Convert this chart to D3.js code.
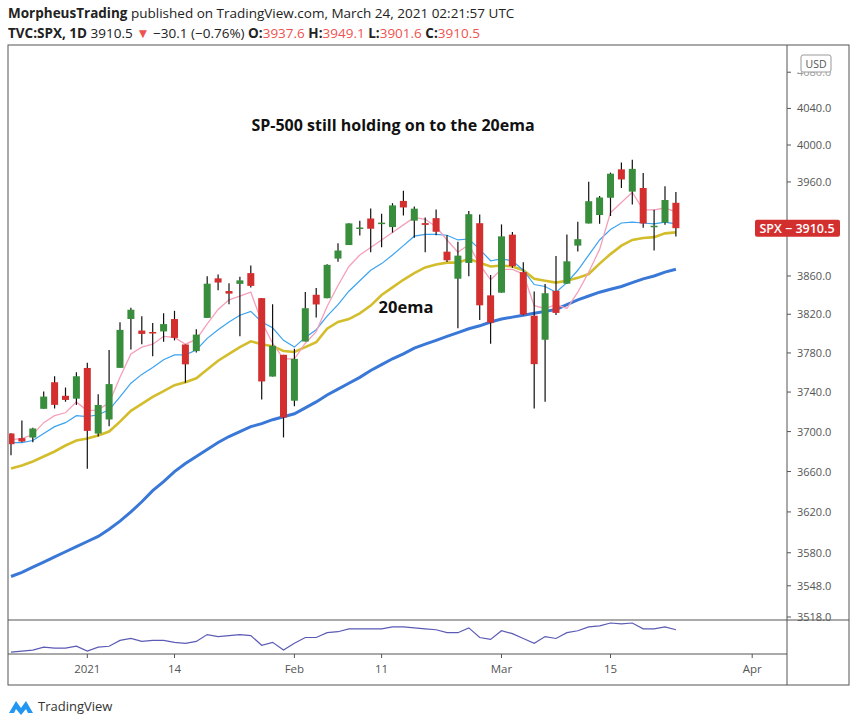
<!DOCTYPE html>
<html><head><meta charset="utf-8">
<script src="https://cdn.jsdelivr.net/npm/d3@7"></script>
<style>body{margin:0;background:#fff}svg{display:block;font-family:"Open Sans","Liberation Sans",sans-serif}</style>
</head><body><svg id="c" width="853" height="725"></svg>
<script>
const dates=["2020-12-22","2020-12-23","2020-12-24","2020-12-28","2020-12-29","2020-12-30","2020-12-31","2021-01-04","2021-01-05","2021-01-06","2021-01-07","2021-01-08","2021-01-11","2021-01-12","2021-01-13","2021-01-14","2021-01-15","2021-01-19","2021-01-20","2021-01-21","2021-01-22","2021-01-25","2021-01-26","2021-01-27","2021-01-28","2021-01-29","2021-02-01","2021-02-02","2021-02-03","2021-02-04","2021-02-05","2021-02-08","2021-02-09","2021-02-10","2021-02-11","2021-02-12","2021-02-16","2021-02-17","2021-02-18","2021-02-19","2021-02-22","2021-02-23","2021-02-24","2021-02-25","2021-02-26","2021-03-01","2021-03-02","2021-03-03","2021-03-04","2021-03-05","2021-03-08","2021-03-09","2021-03-10","2021-03-11","2021-03-12","2021-03-15","2021-03-16","2021-03-17","2021-03-18","2021-03-19","2021-03-22","2021-03-23"];
const open=[3698.1,3693.4,3694.0,3723.0,3750.0,3736.2,3733.3,3764.6,3698.0,3712.2,3764.7,3815.1,3803.1,3801.6,3802.2,3815.0,3788.7,3781.9,3816.2,3857.5,3844.2,3851.7,3863.0,3836.8,3755.8,3778.1,3731.2,3791.8,3840.3,3836.7,3878.3,3892.6,3910.5,3920.8,3916.4,3911.7,3939.6,3918.5,3915.9,3921.2,3885.6,3857.1,3873.7,3915.8,3839.7,3842.5,3903.6,3864.0,3818.5,3793.6,3844.4,3851.9,3892.0,3915.5,3924.5,3943.0,3973.6,3949.6,3953.5,3913.1,3916.5,3937.6];
const high=[3698.3,3711.2,3703.8,3740.5,3756.1,3744.6,3760.2,3770.0,3737.8,3783.0,3811.6,3826.7,3817.9,3810.8,3821.0,3823.6,3788.7,3804.5,3859.8,3861.5,3852.3,3859.2,3870.9,3836.8,3830.5,3778.1,3784.3,3843.1,3847.5,3872.4,3894.6,3915.8,3918.4,3931.5,3926.0,3937.2,3950.4,3933.6,3922.0,3930.4,3902.9,3896.0,3928.7,3925.0,3861.1,3914.5,3906.4,3874.5,3843.7,3851.7,3881.1,3903.8,3917.4,3960.3,3945.0,3970.1,3981.0,3983.9,3969.6,3930.1,3955.3,3949.1];
const low=[3676.2,3689.3,3689.3,3723.0,3723.3,3730.2,3726.9,3662.7,3695.1,3705.3,3764.7,3783.6,3789.0,3776.5,3791.5,3792.9,3749.6,3780.4,3816.2,3845.1,3830.4,3797.2,3847.8,3732.5,3755.8,3694.1,3725.6,3791.8,3816.7,3836.7,3874.9,3892.6,3902.6,3884.9,3890.4,3905.8,3923.9,3900.4,3885.0,3903.1,3874.7,3805.6,3859.6,3814.0,3789.5,3842.5,3868.6,3818.9,3723.3,3730.2,3819.3,3851.9,3885.7,3915.5,3915.2,3923.5,3953.4,3935.7,3910.9,3886.8,3914.2,3901.6];
const close=[3687.3,3690.0,3703.1,3735.4,3727.0,3732.0,3756.1,3700.7,3726.9,3748.1,3803.8,3824.7,3799.6,3801.2,3809.8,3795.5,3768.3,3798.9,3851.9,3853.1,3841.5,3855.4,3849.6,3750.8,3787.4,3714.2,3773.9,3826.3,3830.2,3871.7,3886.8,3915.6,3911.2,3909.9,3916.4,3934.8,3932.6,3931.3,3914.0,3906.7,3876.5,3881.4,3925.4,3829.3,3811.2,3901.8,3870.3,3819.7,3768.5,3841.9,3821.4,3875.4,3898.8,3939.3,3943.3,3968.9,3962.7,3974.1,3915.5,3913.1,3940.6,3910.5];
const emaPink=[3692,3693,3697,3709,3716,3719,3730,3721,3722,3729,3755,3779,3786,3789,3797,3796,3789,3794,3810,3825,3835,3839,3843,3812,3790,3774,3774,3790,3802,3828,3850,3870,3882,3890,3898,3906,3914,3922,3920,3912,3898,3885,3893,3872,3856,3867,3867,3862,3829,3826,3830,3826,3843,3864,3888,3927,3938,3949,3930,3930,3932,3928];
const ema10=[3689,3689,3691,3698,3705,3709,3716,3715,3717,3722,3735,3749,3758,3765,3773,3778,3778,3783,3795,3804,3812,3819,3823,3812,3806,3793,3786,3796,3804,3818,3830,3844,3855,3866,3873,3882,3892,3902,3904,3904,3903,3898,3899,3888,3876,3878,3876,3866,3851,3849,3843,3853,3866,3882,3898,3909,3916,3917,3916,3915,3917,3915];
const ema20=[3663,3666,3670,3675,3680,3686,3691,3693,3696,3700,3710,3721,3728,3735,3741,3747,3750,3754,3763,3772,3779,3786,3792,3789,3787,3782,3781,3786,3791,3805,3812,3815,3821,3829,3840,3848,3856,3863,3869,3872,3874,3874,3878,3874,3870,3871,3870,3866,3857,3855,3853,3855,3858,3862,3873,3883,3892,3898,3900,3901,3905,3906];
const ema50=[3557,3561,3566,3571,3576,3581,3586,3591,3596,3603,3611,3620,3630,3641,3650,3660,3668,3675,3682,3689,3695,3700,3705,3708,3712,3715,3718,3724,3730,3737,3743,3749,3755,3762,3768,3774,3779,3785,3789,3793,3797,3801,3805,3808,3812,3815,3817,3819,3821,3823,3825,3830,3835,3839,3843,3846,3849,3853,3857,3860,3864,3867];
const osc=[1,2,3,6,5,5,7,2,6,7,13,15,12,13,13,11,10,12,19,17,18,19,18,8,11,3,10,16,16,21,22,25,25,25,25,27,27,26,25,24,21,21,26,16,14,23,20,15,10,17,15,21,23,27,28,31,30,31,25,25,27,24];
const yTicks=[4080,4040,4000,3960,3860,3820,3780,3740,3700,3660,3620,3580,3548,3518];
const xTickLabels=[["2021-01-04","2021"],["2021-01-14","14"],["2021-02-01","Feb"],["2021-02-11","11"],["2021-03-01","Mar"],["2021-03-15","15"],["2021-04-01","Apr"]];
const lastClose=3910.5;

const svg=d3.select("#c");
const L=8,R=787,T=45,PB=620,IB=654,B=685,RR=849;
const step=10.9, x0=11;
const idxOf=d=>{let i=dates.indexOf(d); if(i>=0) return i; return dates.length-1+7;};
const x=d3.scaleLinear().domain([0,61]).range([x0,x0+61*step]);
const y=d3.scaleLog().domain([3518,4000]).range([617,145]);

const h1=svg.append("text").attr("x",8).attr("y",18).attr("font-size",13.5).attr("fill","#222");
h1.append("tspan").attr("font-weight","bold").text("MorpheusTrading");
h1.append("tspan").text(" published on TradingView.com, March 24, 2021 02:21:57 UTC");
const h2=svg.append("text").attr("x",8).attr("y",38).attr("font-size",13.5).attr("fill","#222");
h2.append("tspan").attr("font-weight","bold").text("TVC:SPX, 1D");
h2.append("tspan").text("  3910.5 ");
h2.append("tspan").attr("fill","#ef5350").text("▼");
h2.append("tspan").text(" −30.1 (−0.76%) ");
[["O:","3937.6"],["H:","3949.1"],["L:","3901.6"],["C:","3910.5"]].forEach(([a,b])=>{
  h2.append("tspan").attr("font-weight","bold").text(a);
  h2.append("tspan").attr("fill","#ef5350").text(b+" ");
});

svg.append("rect").attr("x",L).attr("y",T).attr("width",RR-L).attr("height",B-T).attr("fill","none").attr("stroke","#555");
svg.append("line").attr("x1",R).attr("x2",R).attr("y1",T).attr("y2",B).attr("stroke","#555");
svg.append("line").attr("x1",L).attr("x2",RR).attr("y1",PB).attr("y2",PB).attr("stroke","#555");
svg.append("line").attr("x1",L).attr("x2",R).attr("y1",IB).attr("y2",IB).attr("stroke","#555");

const g=svg.append("g");
yTicks.forEach(v=>{
  const yy=y(v);
  g.append("line").attr("x1",R).attr("x2",R+4).attr("y1",yy).attr("y2",yy).attr("stroke","#555");
  if(v===4080){
    // partly hidden behind the USD badge, as in the original
    g.append("text").attr("x",R+10).attr("y",yy+4).attr("font-size",11).attr("fill","#999").attr("clip-path","url(#usdclip)").text(v.toFixed(1));
  } else {
    g.append("text").attr("x",R+10).attr("y",yy+4).attr("font-size",11).attr("fill","#555").text(v.toFixed(1));
  }
});
svg.append("clipPath").attr("id","usdclip").append("rect").attr("x",R).attr("y",72).attr("width",60).attr("height",10);
g.append("rect").attr("x",801).attr("y",55).attr("width",30).attr("height",17).attr("rx",2).attr("fill","#fff").attr("stroke","#999");
g.append("text").attr("x",816).attr("y",68).attr("text-anchor","middle").attr("font-size",10.5).attr("fill","#555").text("USD");

xTickLabels.forEach(([d,l])=>{
  const xx=x(idxOf(d));
  g.append("line").attr("x1",xx).attr("x2",xx).attr("y1",IB).attr("y2",IB+4).attr("stroke","#555");
  g.append("text").attr("x",xx).attr("y",IB+19).attr("text-anchor","middle").attr("font-size",11.5).attr("fill","#555").text(l);
});

svg.append("clipPath").attr("id","cp").append("rect").attr("x",L+1).attr("y",T+1).attr("width",R-L-1).attr("height",PB-T-1);
const p=svg.append("g").attr("clip-path","url(#cp)");
const idx=d3.range(dates.length);
const line=arr=>d3.line().x(i=>x(i)).y(i=>y(arr[i]));
p.append("path").attr("d",line(ema50)(idx)).attr("fill","none").attr("stroke","#3a78d8").attr("stroke-width",3);
p.append("path").attr("d",line(ema20)(idx)).attr("fill","none").attr("stroke","#d4bd2c").attr("stroke-width",2.6);
p.append("path").attr("d",line(ema10)(idx)).attr("fill","none").attr("stroke","#3ba3f0").attr("stroke-width",1.2);
p.append("path").attr("d",line(emaPink)(idx)).attr("fill","none").attr("stroke","#f5a0b8").attr("stroke-width",1.3);
idx.forEach(i=>{
  const up=close[i]>=open[i], col=up?"#388e3c":"#d32f2f";
  p.append("line").attr("x1",x(i)).attr("x2",x(i)).attr("y1",y(high[i])).attr("y2",y(low[i])).attr("stroke","#111").attr("stroke-width",1.2);
  const top=y(Math.max(open[i],close[i])), bot=y(Math.min(open[i],close[i]));
  p.append("rect").attr("x",x(i)-3.5).attr("width",7).attr("y",top).attr("height",Math.max(1.5,bot-top)).attr("fill",col);
});
svg.append("text").attr("x",393).attr("y",131).attr("text-anchor","middle").attr("font-size",16).attr("font-weight","bold").attr("fill","#111").text("SP-500 still holding on to the 20ema");
svg.append("text").attr("x",406).attr("y",313).attr("text-anchor","middle").attr("font-size",16.5).attr("font-weight","bold").attr("fill","#111").text("20ema");

const ty=y(lastClose);
svg.append("rect").attr("x",755).attr("y",ty-8.5).attr("width",85).attr("height",17).attr("rx",2).attr("fill","#d32f2f");
svg.append("text").attr("x",797).attr("y",ty+4.5).attr("text-anchor","middle").attr("font-size",12.5).attr("font-weight","600").attr("fill","#fff").text("SPX  −  3910.5");

const yo=d3.scaleLinear().domain([0,31]).range([653,623]);
svg.append("path").attr("d",d3.line().x(i=>x(i)).y(i=>yo(osc[i]))(idx)).attr("fill","none").attr("stroke","#5b5bb5").attr("stroke-width",1.2);

const lg=svg.append("g").attr("transform","translate(8,697)");
lg.append("path").attr("d","M1,16 L8,4 L13,11 L18,4 L25,16 L20,16 L18,12 L13,18 L8,12 L6,16Z").attr("fill","#2196f3");
lg.append("text").attr("x",30).attr("y",14).attr("font-size",13).attr("fill","#333").text("TradingView");
</script></body></html>
